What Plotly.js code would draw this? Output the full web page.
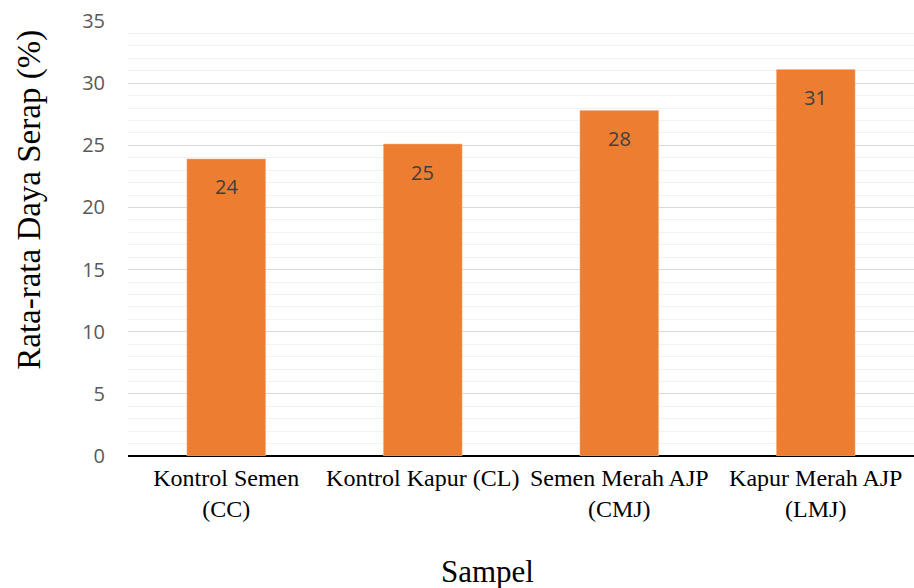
<!DOCTYPE html>
<html>
<head>
<meta charset="utf-8">
<script src="https://cdn.plot.ly/plotly-3.0.1.min.js"></script>
<style>html,body{margin:0;padding:0;background:#fff;}#chart{width:914px;height:588px;}</style>
</head>
<body>
<div id="chart"></div>
<script>
const categories = ["Kontrol Semen<br>(CC)", "Kontrol Kapur (CL)", "Semen Merah AJP<br>(CMJ)", "Kapur Merah AJP<br>(LMJ)"];
const values = [23.9, 25.1, 27.8, 31.1];
const labels = ["24", "25", "28", "31"];
const xTitle = "Sampel";
const yTitle = "Rata-rata Daya Serap (%)";

const trace = {
  type: "bar",
  x: categories,
  y: values,
  marker: {color: "#ED7D31", line: {color: "#F4B183", width: 0.5}},
  hoverinfo: "none"
};

const serif = "Liberation Serif, Times New Roman, serif";
const annotations = categories.map((c, i) => ({
  x: c, y: values[i], xref: "x", yref: "y",
  text: labels[i], showarrow: false, yshift: -28,
  font: {family: "Open Sans, Carlito, sans-serif", size: 20, color: "#404040"}
}));
annotations.push({
  text: yTitle, xref: "paper", yref: "paper", x: -0.1247, y: 0.589,
  xanchor: "center", yanchor: "middle", textangle: -90, showarrow: false,
  font: {family: serif, size: 33, color: "#000"}
});
annotations.push({
  text: xTitle, xref: "paper", yref: "paper", x: 0.458, y: -0.2644,
  xanchor: "center", yanchor: "middle", showarrow: false,
  font: {family: serif, size: 31, color: "#000"}
});

const layout = {
  width: 914, height: 588,
  margin: {l: 128, r: 0, t: 21, b: 132},
  paper_bgcolor: "#fff", plot_bgcolor: "#fff",
  bargap: 0.6,
  showlegend: false,
  annotations: annotations,
  xaxis: {
    type: "category",
    showline: false, showgrid: false, zeroline: false,
    tickfont: {family: serif, size: 24, color: "#000"},
    ticklabelstandoff: 5
  },
  yaxis: {
    range: [0, 35], dtick: 5, tick0: 0,
    showgrid: true, gridcolor: "#d9d9d9", gridwidth: 1,
    minor: {dtick: 1, showgrid: true, gridcolor: "#f2f2f2", gridwidth: 1},
    zeroline: true, zerolinecolor: "#000", zerolinewidth: 1.5,
    showline: false,
    tickfont: {family: "Open Sans, Carlito, sans-serif", size: 20, color: "#595959"},
    ticklabelstandoff: 22
  }
};

Plotly.newPlot("chart", [trace], layout, {displayModeBar: false, staticPlot: true});
</script>
</body>
</html>
